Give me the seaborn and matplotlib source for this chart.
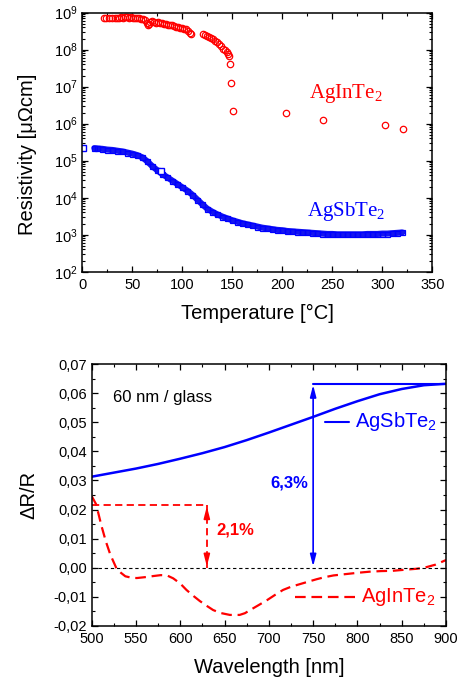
import numpy as np
import pandas as pd
import matplotlib
matplotlib.use("Agg")
import matplotlib.pyplot as plt
import seaborn as sns
from matplotlib.ticker import MultipleLocator, LogLocator, FuncFormatter, NullFormatter

# ---------------- data: resistivity vs temperature ----------------
temp_agin = [22, 24, 27, 30, 33, 35, 37, 39, 41, 43, 45, 47, 49, 51, 53, 55, 57, 59, 61, 63,
             65, 66, 67, 68, 70, 72, 74, 76, 78, 80, 82, 84, 86, 88, 90, 92, 94, 96, 98, 100,
             102, 104, 106, 108, 109,
             121, 123, 125, 127, 129, 131, 133, 135, 137, 139, 141, 143, 145, 146, 147,
             148, 149, 151, 204, 241, 303, 321]
logrho_agin = [8.86, 8.86, 8.85, 8.86, 8.85, 8.85, 8.86, 8.87, 8.86, 8.87, 8.87, 8.86, 8.87, 8.86,
               8.86, 8.85, 8.85, 8.84, 8.83, 8.80,
               8.72, 8.68, 8.70, 8.76, 8.77, 8.74, 8.73, 8.74, 8.72, 8.71, 8.70, 8.69, 8.68, 8.67,
               8.66, 8.64, 8.62, 8.60, 8.58, 8.58,
               8.56, 8.55, 8.51, 8.46, 8.42,
               8.42, 8.41, 8.38, 8.35, 8.32, 8.28, 8.24, 8.20, 8.15, 8.09, 8.03, 7.98, 7.93, 7.88, 7.83,
               7.60, 7.09, 6.33, 6.28, 6.10, 5.96, 5.87]

temp_agsb = [12, 15, 20, 25, 30, 35, 40, 45, 50, 55, 60, 65, 70, 75, 80, 85, 90, 95, 100, 105,
             110, 115, 120, 125, 130, 135, 140, 145, 150, 155, 160, 165, 170, 175, 180, 185,
             190, 195, 200, 205, 210, 215, 220, 225, 230, 235, 240, 245, 250, 255, 260, 265,
             270, 275, 280, 285, 290, 295, 300, 305, 310, 315, 320]
logrho_agsb = [5.34, 5.33, 5.32, 5.30, 5.29, 5.27, 5.25, 5.22, 5.19, 5.15, 5.09, 4.98, 4.85, 4.74,
               4.64, 4.55, 4.46, 4.37, 4.28, 4.19, 4.08, 3.95, 3.82, 3.70, 3.62, 3.55, 3.49, 3.44,
               3.39, 3.35, 3.31, 3.28, 3.25, 3.22, 3.19, 3.17, 3.15, 3.13, 3.12, 3.10, 3.09, 3.08,
               3.07, 3.06, 3.05, 3.04, 3.03, 3.02, 3.02, 3.01, 3.01, 3.01, 3.01, 3.01, 3.01, 3.02,
               3.02, 3.02, 3.03, 3.03, 3.04, 3.05, 3.06]
temp_agsb_extra = [1, 79]
logrho_agsb_extra = [5.34, 4.72]

# ---------------- data: optical contrast vs wavelength ----------------
wl_agsb = [500, 525, 550, 575, 600, 625, 650, 675, 700, 725, 750, 775, 800, 825, 850, 875, 900]
dr_agsb = [0.0313, 0.0327, 0.0341, 0.0357, 0.0375, 0.0394, 0.0415, 0.0439, 0.0465, 0.0492,
           0.0519, 0.0547, 0.0573, 0.0597, 0.0615, 0.0628, 0.0633]

wl_agin = [500, 505, 511, 516, 521, 528, 533, 538, 545, 551, 560, 570, 578, 585, 592, 600, 607,
           615, 622, 630, 637, 645, 656, 667, 673, 679, 688, 698, 707, 716, 725, 735, 745, 754,
           763, 773, 788, 800, 814, 827, 840, 855, 867, 876, 888, 900]
dr_agin = [0.0246, 0.0218, 0.0144, 0.0090, 0.0045, -0.0003, -0.0018, -0.0030, -0.0035, -0.0036,
           -0.0033, -0.0029, -0.0026, -0.0027, -0.0037, -0.0055, -0.0077, -0.0098, -0.0115,
           -0.0132, -0.0146, -0.0156, -0.0163, -0.0163, -0.0157, -0.0146, -0.0130, -0.0112,
           -0.0094, -0.0077, -0.0066, -0.0057, -0.0048, -0.0040, -0.0033, -0.0027, -0.0022,
           -0.0018, -0.0014, -0.0012, -0.0011, -0.0007, -0.0004, 0.0000, 0.0010, 0.0026]

contrast_agsb = 0.0633
contrast_agin = 0.0216

# ---------------- style ----------------
sns.set_style("ticks")
plt.rcParams.update({
    "font.family": ["Liberation Sans", "DejaVu Sans"],
    "mathtext.default": "regular",
    "xtick.direction": "in", "ytick.direction": "in",
    "xtick.top": True, "ytick.right": True,
    "xtick.labelsize": 10.5, "ytick.labelsize": 10.5,
    "xtick.color": "black", "ytick.color": "black",
    "xtick.major.size": 4, "ytick.major.size": 4,
    "xtick.minor.size": 2.5, "ytick.minor.size": 2.5,
    "xtick.major.width": 0.9, "ytick.major.width": 0.9,
    "xtick.minor.width": 0.8, "ytick.minor.width": 0.8,
    "axes.linewidth": 1.1, "axes.edgecolor": "black",
    "axes.labelsize": 14.5, "axes.labelcolor": "black",
    "xtick.major.pad": 4.5, "ytick.major.pad": 3.5,
})

fig = plt.figure(figsize=(4.61, 6.82), dpi=100)
ax1 = fig.add_axes([0.1786, 0.6016, 0.7592, 0.3798])
ax2 = fig.add_axes([0.1989, 0.0826, 0.7686, 0.3832])

# ---------------- top panel ----------------
ax1.set_yscale("log")
df_in = pd.DataFrame({"T": temp_agin, "rho": 10 ** np.array(logrho_agin)})
df_sb = pd.DataFrame({"T": temp_agsb, "rho": 10 ** np.array(logrho_agsb)})
df_sbx = pd.DataFrame({"T": temp_agsb_extra, "rho": 10 ** np.array(logrho_agsb_extra)})

sns.lineplot(data=df_sb, x="T", y="rho", ax=ax1, estimator=None, sort=False,
             color="#1414f0", lw=4.4, marker="s", ms=3.6, mfc="none", mec="#0000ff", mew=0.9)
sns.lineplot(data=df_sbx, x="T", y="rho", ax=ax1, estimator=None, sort=False,
             color="#0000ff", ls="none", marker="s", ms=4.2, mfc="white", mec="#0000ff", mew=1.0)
sns.lineplot(data=df_in, x="T", y="rho", ax=ax1, estimator=None, sort=False,
             color="red", ls="none", marker="o", ms=4.6, mfc="none", mec="red", mew=0.9)

ax1.set_xlim(0, 350)
ax1.set_ylim(1e2, 1e9)
ax1.xaxis.set_major_locator(MultipleLocator(50))
ax1.xaxis.set_minor_locator(MultipleLocator(25))
ax1.yaxis.set_major_locator(LogLocator(base=10, numticks=20))
ax1.yaxis.set_minor_locator(LogLocator(base=10, subs=np.arange(2, 10), numticks=20))
ax1.yaxis.set_minor_formatter(NullFormatter())
ax1.set_xlabel("Temperature [°C]")
ax1.set_ylabel("Resistivity [μΩcm]")
ax1.xaxis.set_label_coords(0.5, -0.125)
ax1.yaxis.set_label_coords(-0.13, 0.455)
for s in ax1.spines.values():
    s.set_visible(True)

ax1.text(227, 10 ** 6.70, "AgInTe$_{2}$", color="red", fontsize=15,
         family=["Liberation Serif", "DejaVu Serif"], ha="left", va="baseline")
ax1.text(225, 10 ** 3.50, "AgSbTe$_{2}$", color="#0000ff", fontsize=15,
         family=["Liberation Serif", "DejaVu Serif"], ha="left", va="baseline")

# ---------------- bottom panel ----------------
sns.lineplot(x=wl_agsb, y=dr_agsb, ax=ax2, color="#0000ff", lw=1.8, estimator=None, sort=False)
sns.lineplot(x=wl_agin, y=dr_agin, ax=ax2, color="red", lw=1.6, estimator=None, sort=False,
             ls=(0, (4.8, 2.6)))
ax2.axhline(0, color="black", lw=0.8, ls=(0, (3, 2.5)))

ax2.set_xlim(500, 900)
ax2.set_ylim(-0.02, 0.07)
ax2.xaxis.set_major_locator(MultipleLocator(50))
ax2.xaxis.set_minor_locator(MultipleLocator(25))
ax2.yaxis.set_major_locator(MultipleLocator(0.01))
ax2.yaxis.set_minor_locator(MultipleLocator(0.005))
ax2.yaxis.set_major_formatter(FuncFormatter(
    lambda v, p: ("%.2f" % (0.0 if abs(v) < 1e-9 else v)).replace(".", ",")))
ax2.set_xlabel("Wavelength [nm]")
ax2.set_ylabel("ΔR/R")
ax2.xaxis.set_label_coords(0.5, -0.125)
ax2.yaxis.set_label_coords(-0.15, 0.5)
for s in ax2.spines.values():
    s.set_visible(True)

# 6,3% marker
ax2.plot([750, 900], [contrast_agsb, contrast_agsb], color="#0000ff", lw=1.5)
ax2.annotate("", xy=(750, 0.0004), xytext=(750, contrast_agsb - 0.0004),
             arrowprops=dict(arrowstyle="<|-|>,head_length=0.7,head_width=0.18",
                             color="#0000ff", lw=1.2, shrinkA=0, shrinkB=0))
ax2.text(745, 0.0290, "6,3%", color="#0000ff", fontsize=12, fontweight="bold",
         ha="right", va="center")

# 2,1% marker
ax2.plot([500, 630], [contrast_agin, contrast_agin], color="red", lw=1.3, ls=(0, (4, 2.4)))
ax2.plot([630, 630], [contrast_agin, 0.0], color="red", lw=1.3, ls=(0, (4, 2.4)))
ax2.annotate("", xy=(630, contrast_agin - 0.0005), xytext=(630, contrast_agin - 0.004),
             arrowprops=dict(arrowstyle="-|>,head_length=0.7,head_width=0.18",
                             color="red", lw=1.2, shrinkA=0, shrinkB=0))
ax2.annotate("", xy=(630, 0.0004), xytext=(630, 0.004),
             arrowprops=dict(arrowstyle="-|>,head_length=0.7,head_width=0.18",
                             color="red", lw=1.2, shrinkA=0, shrinkB=0))
ax2.text(641, 0.0129, "2,1%", color="red", fontsize=12, fontweight="bold",
         ha="left", va="center")

ax2.text(524, 0.0585, "60 nm / glass", color="black", fontsize=12, ha="left", va="center")

# legends
ax2.plot([763, 791], [0.0502, 0.0502], color="#0000ff", lw=1.5)
ax2.text(797, 0.0502, "AgSbTe$_{2}$", color="#0000ff", fontsize=14.5, ha="left", va="center")
ax2.plot([729, 797], [-0.0101, -0.0101], color="red", lw=1.6, ls=(0, (4.8, 2.6)))
ax2.text(804, -0.0101, "AgInTe$_{2}$", color="red", fontsize=14.5, ha="left", va="center")

fig.savefig("out.png", dpi=100)
